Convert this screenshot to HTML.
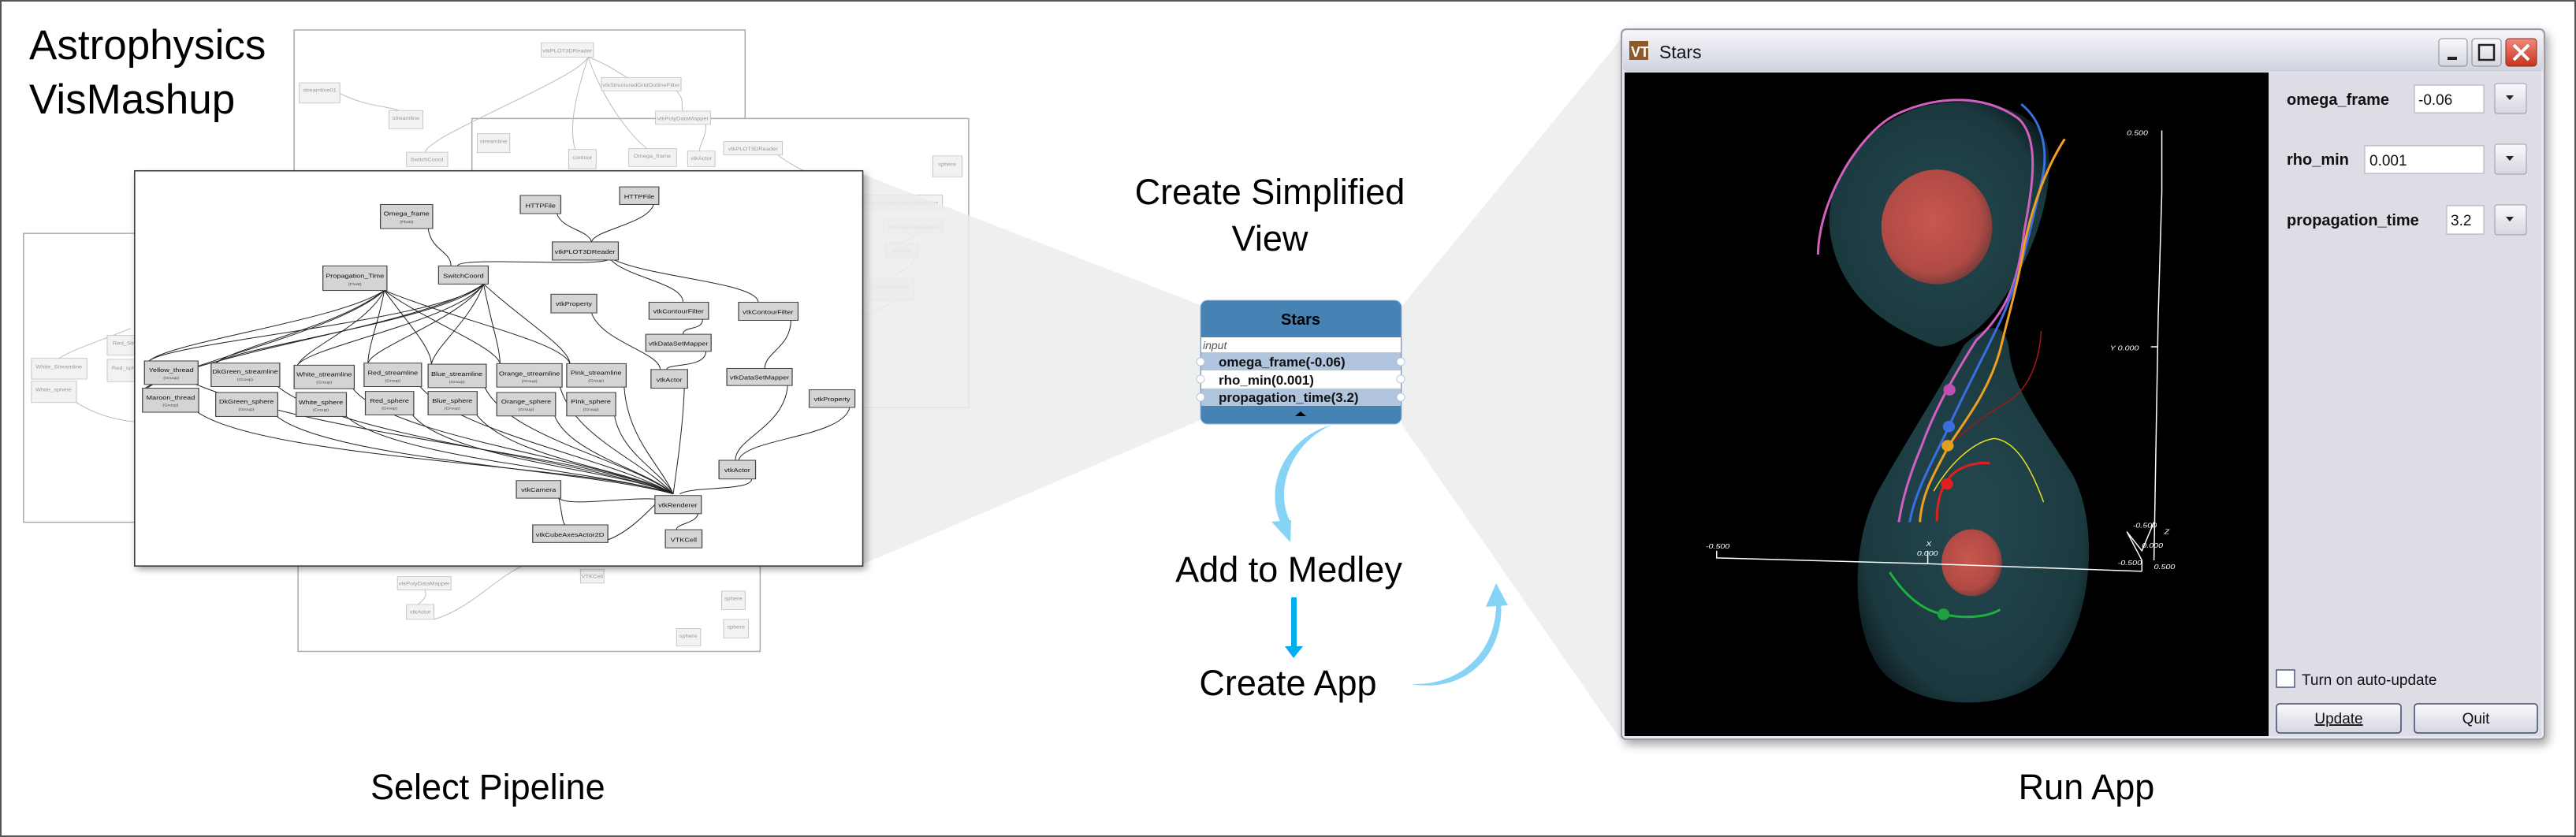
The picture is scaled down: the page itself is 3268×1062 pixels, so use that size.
<!DOCTYPE html>
<html><head><meta charset="utf-8"><style>
html,body{margin:0;padding:0;background:#fff;}
svg{display:block;}
.big{font-family:"Liberation Sans",sans-serif;fill:#000;}
.n rect{fill:#d4d4d4;stroke:#444;stroke-width:1.5;}
.n text{font-family:"Liberation Sans",sans-serif;font-size:11px;fill:#111;text-anchor:middle;}
.n text.s{font-size:7px;fill:#444;}
.f rect{fill:#f2f2f2;stroke:#bbb;stroke-width:1;}
.f text{font-family:"Liberation Sans",sans-serif;font-size:9px;fill:#999;text-anchor:middle;}
.e path{fill:none;stroke:#222;stroke-width:1;vector-effect:non-scaling-stroke;}
.fe path{fill:none;stroke:#bbb;stroke-width:1;vector-effect:non-scaling-stroke;}
</style></head><body>
<svg width="3268" height="1062" viewBox="0 0 3268 1062" xmlns="http://www.w3.org/2000/svg">
<defs>
<radialGradient id="red" cx="0.45" cy="0.45" r="0.6"><stop offset="0" stop-color="#c9574e"/><stop offset="0.75" stop-color="#b04a44"/><stop offset="1" stop-color="#6b3a3a"/></radialGradient>
<radialGradient id="teal" cx="0.5" cy="0.5" r="0.6"><stop offset="0" stop-color="#24474e"/><stop offset="0.8" stop-color="#1b3a40"/><stop offset="1" stop-color="#0c1a1d"/></radialGradient>
<linearGradient id="tb" x1="0" y1="0" x2="0" y2="1"><stop offset="0" stop-color="#f6f6fa"/><stop offset="1" stop-color="#cfd2de"/></linearGradient>
<linearGradient id="btn" x1="0" y1="0" x2="0" y2="1"><stop offset="0" stop-color="#fafafd"/><stop offset="1" stop-color="#d5d6e0"/></linearGradient>
<linearGradient id="cls" x1="0" y1="0" x2="0" y2="1"><stop offset="0" stop-color="#f08a7a"/><stop offset="1" stop-color="#c8321e"/></linearGradient>
<filter id="sh" x="-5%" y="-5%" width="112%" height="115%"><feDropShadow dx="4" dy="6" stdDeviation="6" flood-opacity="0.35"/></filter>
</defs>
<rect x="1" y="1" width="3266" height="1060" fill="#fff" stroke="#555" stroke-width="2"/>

<!-- pipeline area in zoom1 coordinates -->
<g transform="scale(0.8292,0.6775)">
 <!-- back sheets -->
 <rect x="450" y="56" width="690" height="300" fill="#fff" stroke="#aaa" stroke-width="1.5" vector-effect="non-scaling-stroke"/>
 <rect x="456" y="1000" width="707" height="220" fill="#fff" stroke="#aaa" stroke-width="1.5" vector-effect="non-scaling-stroke"/>
 <rect x="722" y="222" width="760" height="541" fill="#fff" stroke="#aaa" stroke-width="1.5" vector-effect="non-scaling-stroke"/>
 <rect x="36" y="437" width="300" height="541" fill="#fff" stroke="#aaa" stroke-width="1.5" vector-effect="non-scaling-stroke"/>
 <g class="fe">
  <path d="M900,107 C880,150 660,250 650,285"/><path d="M900,107 C880,180 870,240 880,280"/><path d="M900,107 C920,180 960,250 990,278"/><path d="M900,107 C930,120 950,140 960,145"/><path d="M1035,170 C1050,190 1040,200 1045,208"/><path d="M1080,233 C1080,260 1070,270 1070,283"/><path d="M520,175 C560,200 600,200 610,207"/>
  <path d="M1190,290 C1220,320 1300,360 1320,365"/><path d="M1400,437 C1400,450 1380,450 1380,455"/><path d="M1400,480 C1400,500 1370,510 1365,522"/><path d="M1370,562 C1350,580 1320,590 1300,595"/>
  <path d="M90,671 C120,650 150,640 200,615"/><path d="M117,754 C150,780 190,790 215,790"/>
  <path d="M650,1105 C655,1120 645,1125 640,1132"/><path d="M664,1160 C720,1140 760,1080 800,1060"/>
 </g>
 <g class="f">
  <rect x="828" y="80" width="80" height="27"/><text x="868" y="98">vtkPLOT3DReader</text>
  <rect x="920" y="145" width="122" height="25"/><text x="981" y="162">vtkStructuredGridOutlineFilter</text>
  <rect x="458" y="155" width="62" height="38"/><text x="489" y="172">streamline01</text>
  <rect x="1003" y="208" width="84" height="25"/><text x="1045" y="225">vtkPolyDataMapper</text>
  <rect x="595" y="207" width="52" height="34"/><text x="621" y="224">streamline</text>
  <rect x="730" y="250" width="50" height="36"/><text x="755" y="268">streamline</text>
  <rect x="622" y="285" width="63" height="27"/><text x="653" y="302">SwitchCoord</text>
  <rect x="870" y="280" width="42" height="36"/><text x="891" y="298">contour</text>
  <rect x="962" y="278" width="73" height="34"/><text x="998" y="295">Omega_frame</text>
  <rect x="1052" y="283" width="42" height="29"/><text x="1073" y="300">vtkActor</text>
  <rect x="1107" y="265" width="90" height="25"/><text x="1152" y="282">vtkPLOT3DReader</text>
  <rect x="1427" y="292" width="45" height="39"/><text x="1449" y="311">sphere</text>
  <rect x="1310" y="365" width="132" height="28"/><text x="1376" y="383">vtkStructuredGridOutlineFilter</text>
  <rect x="1352" y="410" width="90" height="27"/><text x="1397" y="428">vtkPolyDataMapper</text>
  <rect x="1355" y="455" width="50" height="27"/><text x="1380" y="472">vtkActor</text>
  <rect x="1330" y="522" width="68" height="40"/><text x="1364" y="540">AngMomAxis</text>
  <rect x="48" y="671" width="85" height="39"/><text x="90" y="690">White_Streamline</text>
  <rect x="48" y="714" width="69" height="40"/><text x="82" y="733">White_sphere</text>
  <rect x="164" y="628" width="50" height="37"/><text x="189" y="646">Red_Str</text>
  <rect x="164" y="673" width="50" height="42"/><text x="189" y="692">Red_sph</text>
  <rect x="608" y="1080" width="82" height="25"/><text x="649" y="1096">vtkPolyDataMapper</text>
  <rect x="622" y="1132" width="42" height="28"/><text x="643" y="1149">vtkActor</text>
  <rect x="888" y="1066" width="36" height="26"/><text x="906" y="1083">VTKCell</text>
  <rect x="1104" y="1107" width="36" height="35"/><text x="1122" y="1124">sphere</text>
  <rect x="1107" y="1160" width="38" height="35"/><text x="1126" y="1177">sphere</text>
  <rect x="1035" y="1177" width="37" height="33"/><text x="1053" y="1194">sphere</text>
 </g>
</g>

<!-- gray wedges -->
<polygon points="1094,221 1523,387 1523,533 1094,716" fill="#ebecec" opacity="0.85"/>
<polygon points="1778,389 2057,49 2057,940 1778,538" fill="#eeefef"/>

<!-- main sheet -->
<g transform="scale(0.8292,0.6775)">
 <rect x="206" y="320" width="1114" height="740" fill="#fff" stroke="#333" stroke-width="1.5" vector-effect="non-scaling-stroke" filter="url(#sh)"/>
 <g class="e">
  <path d="M655,428 C660,470 690,470 690,498"/>
  <path d="M852,400 C860,430 900,430 905,453"/><path d="M1000,383 C990,420 910,430 905,453"/>
  <path d="M930,487 C900,500 700,480 700,498"/>
  <path d="M935,487 C960,520 1045,530 1045,566"/><path d="M940,487 C1000,520 1160,530 1160,566"/>
  <path d="M1075,598 C1075,620 1045,610 1045,626"/><path d="M1080,658 C1080,690 1020,680 1020,692"/>
  <path d="M905,586 C920,640 1010,660 1010,692"/>
  <path d="M1210,600 C1210,650 1170,660 1170,690"/><path d="M1205,722 C1200,800 1125,820 1125,862"/>
  <path d="M1300,763 C1290,820 1140,820 1130,862"/>
  <path d="M1047,727 C1045,800 1035,880 1030,925"/><path d="M1150,897 C1150,920 1060,910 1040,925"/>
  <path d="M855,933 C870,950 960,930 1005,935"/><path d="M855,933 C860,960 860,980 865,983"/>
  <path d="M925,1013 C960,1000 990,960 1010,935"/><path d="M1068,960 C1068,980 1035,980 1035,992"/>
  <!-- sources to groups -->
  <path d="M588,544 C520,600 260,640 228,676"/><path d="M588,544 C520,610 360,650 330,680"/><path d="M588,544 C560,610 470,650 455,684"/><path d="M588,544 C580,600 563,650 563,680"/><path d="M588,544 C620,600 660,650 660,682"/><path d="M588,544 C650,600 760,650 765,681"/><path d="M588,544 C700,600 860,640 872,681"/>
  <path d="M588,544 C520,620 280,680 222,727"/>
  <path d="M740,532 C680,600 260,640 228,676"/><path d="M740,532 C680,600 360,650 330,680"/><path d="M740,532 C700,600 470,650 455,684"/><path d="M740,532 C700,600 570,650 563,680"/><path d="M740,532 C720,600 665,650 660,682"/><path d="M740,532 C750,600 765,650 765,681"/><path d="M740,532 C800,600 870,650 872,681"/>
  <path d="M740,532 C650,610 300,660 225,727"/>
  <!-- groups to renderer -->
  <path d="M300,720 C500,820 900,850 1030,925"/><path d="M425,724 C520,820 900,860 1030,925"/><path d="M540,728 C600,820 920,860 1030,925"/><path d="M643,724 C700,810 940,860 1030,925"/><path d="M742,726 C780,820 960,860 1030,925"/><path d="M857,725 C880,820 980,860 1030,925"/><path d="M955,725 C960,820 1010,870 1030,925"/>
  <path d="M300,770 C400,860 900,870 1030,925"/><path d="M422,778 C500,860 900,880 1030,925"/><path d="M528,778 C600,860 920,880 1030,925"/><path d="M630,775 C680,860 950,880 1030,925"/><path d="M728,775 C780,860 970,880 1030,925"/><path d="M848,777 C870,850 990,880 1030,925"/><path d="M940,777 C950,850 1010,880 1030,925"/>
 </g>
 <g class="n">
  <rect x="582" y="383" width="80" height="45"/><text x="622" y="404">Omega_frame</text><text class="s" x="622" y="418">(Float)</text>
  <rect x="796" y="366" width="62" height="34"/><text x="827" y="389">HTTPFile</text>
  <rect x="948" y="350" width="60" height="33"/><text x="978" y="372">HTTPFile</text>
  <rect x="845" y="453" width="101" height="34"/><text x="895" y="475">vtkPLOT3DReader</text>
  <rect x="494" y="498" width="98" height="46"/><text x="543" y="520">Propagation_Time</text><text class="s" x="543" y="534">(Float)</text>
  <rect x="671" y="498" width="76" height="34"/><text x="709" y="520">SwitchCoord</text>
  <rect x="843" y="551" width="70" height="35"/><text x="878" y="573">vtkProperty</text>
  <rect x="993" y="566" width="91" height="32"/><text x="1038" y="587">vtkContourFilter</text>
  <rect x="1130" y="566" width="91" height="34"/><text x="1175" y="588">vtkContourFilter</text>
  <rect x="988" y="626" width="100" height="32"/><text x="1038" y="647">vtkDataSetMapper</text>
  <rect x="221" y="676" width="82" height="44"/><text x="262" y="697">Yellow_thread</text><text class="s" x="262" y="710">(Group)</text>
  <rect x="323" y="680" width="105" height="44"/><text x="375" y="700">DkGreen_streamline</text><text class="s" x="375" y="713">(Group)</text>
  <rect x="450" y="684" width="92" height="44"/><text x="496" y="705">White_streamline</text><text class="s" x="496" y="718">(Group)</text>
  <rect x="557" y="680" width="88" height="44"/><text x="601" y="702">Red_streamline</text><text class="s" x="601" y="715">(Group)</text>
  <rect x="655" y="682" width="89" height="44"/><text x="699" y="704">Blue_streamline</text><text class="s" x="699" y="717">(Group)</text>
  <rect x="760" y="681" width="100" height="44"/><text x="810" y="703">Orange_streamline</text><text class="s" x="810" y="716">(Group)</text>
  <rect x="867" y="681" width="91" height="44"/><text x="912" y="702">Pink_streamline</text><text class="s" x="912" y="715">(Group)</text>
  <rect x="996" y="692" width="56" height="35"/><text x="1024" y="715">vtkActor</text>
  <rect x="1112" y="690" width="100" height="32"/><text x="1162" y="711">vtkDataSetMapper</text>
  <rect x="218" y="727" width="86" height="45"/><text x="261" y="748">Maroon_thread</text><text class="s" x="261" y="761">(Group)</text>
  <rect x="330" y="735" width="95" height="45"/><text x="377" y="756">DkGreen_sphere</text><text class="s" x="377" y="769">(Group)</text>
  <rect x="453" y="735" width="77" height="45"/><text x="491" y="757">White_sphere</text><text class="s" x="491" y="770">(Group)</text>
  <rect x="559" y="733" width="74" height="44"/><text x="596" y="754">Red_sphere</text><text class="s" x="596" y="767">(Group)</text>
  <rect x="655" y="733" width="75" height="44"/><text x="692" y="754">Blue_sphere</text><text class="s" x="692" y="767">(Group)</text>
  <rect x="760" y="735" width="90" height="44"/><text x="805" y="756">Orange_sphere</text><text class="s" x="805" y="769">(Group)</text>
  <rect x="867" y="735" width="75" height="44"/><text x="904" y="756">Pink_sphere</text><text class="s" x="904" y="769">(Group)</text>
  <rect x="1238" y="730" width="70" height="33"/><text x="1273" y="751">vtkProperty</text>
  <rect x="1100" y="862" width="56" height="35"/><text x="1128" y="884">vtkActor</text>
  <rect x="790" y="900" width="68" height="33"/><text x="824" y="921">vtkCamera</text>
  <rect x="1002" y="928" width="71" height="34"/><text x="1037" y="950">vtkRenderer</text>
  <rect x="815" y="983" width="115" height="33"/><text x="872" y="1005">vtkCubeAxesActor2D</text>
  <rect x="1018" y="992" width="56" height="34"/><text x="1046" y="1015">VTKCell</text>
 </g>
</g>

<!-- left titles -->
<text class="big" x="37" y="75" font-size="53">Astrophysics</text>
<text class="big" x="37" y="144" font-size="53">VisMashup</text>
<text class="big" x="470" y="1014" font-size="45">Select Pipeline</text>

<!-- middle -->
<text class="big" x="1611" y="259" font-size="45" text-anchor="middle">Create Simplified</text>
<text class="big" x="1611" y="318" font-size="45" text-anchor="middle">View</text>
<g font-family="Liberation Sans, sans-serif">
 <rect x="1523" y="381" width="255" height="157" rx="9" fill="#4682b4" stroke="#9bb8d8" stroke-width="1"/>
 <rect x="1524" y="428" width="253" height="19" fill="#fff"/>
 <rect x="1524" y="447" width="253" height="23" fill="#b0c4de"/>
 <rect x="1524" y="470" width="253" height="23" fill="#fff"/>
 <rect x="1524" y="493" width="253" height="22" fill="#b0c4de"/>
 <text x="1650" y="412" font-size="20" font-weight="bold" text-anchor="middle" fill="#000">Stars</text>
 <text x="1526" y="443" font-size="14" font-style="italic" fill="#555">input</text>
 <text x="1546" y="465" font-size="17" font-weight="bold" fill="#111">omega_frame(-0.06)</text>
 <text x="1546" y="488" font-size="17" font-weight="bold" fill="#111">rho_min(0.001)</text>
 <text x="1546" y="510" font-size="17" font-weight="bold" fill="#111">propagation_time(3.2)</text>
 <g fill="#fff" stroke="#b8c8e0"><circle cx="1523" cy="459" r="5"/><circle cx="1523" cy="481" r="5"/><circle cx="1523" cy="504" r="5"/><circle cx="1777" cy="459" r="5"/><circle cx="1777" cy="481" r="5"/><circle cx="1777" cy="504" r="5"/></g>
 <polygon points="1643,528 1657,528 1650,522" fill="#000"/>
</g>
<!-- curved arrow 1 -->
<path d="M1690,539 C1630,555 1600,620 1628,670 L1637,662 C1615,620 1640,560 1690,539 Z" fill="#87d3f5"/>
<polygon points="1613,662 1637,688 1638,660" fill="#87d3f5"/>
<text class="big" x="1635" y="738" font-size="45" text-anchor="middle">Add to Medley</text>
<rect x="1638" y="758" width="7" height="66" fill="#00aeef"/>
<polygon points="1630,820 1653,820 1641,835" fill="#00aeef"/>
<text class="big" x="1634" y="882" font-size="45" text-anchor="middle">Create App</text>
<path d="M1790,868 C1860,870 1900,820 1898,762 L1904,762 C1910,830 1860,880 1790,868 Z" fill="#87d3f5"/>
<polygon points="1885,770 1898,740 1913,768" fill="#87d3f5"/>

<!-- app window -->
<rect x="2057" y="37" width="1171" height="901" rx="6" fill="#e8e8ee" stroke="#9a9aa8" stroke-width="2" filter="url(#sh)"/>
<rect x="2059" y="39" width="1167" height="52" rx="5" fill="url(#tb)"/>
<rect x="2067" y="52" width="24" height="24" fill="#8a5a2a"/>
<text x="2069" y="72" font-family="Liberation Sans, sans-serif" font-size="18" font-weight="bold" fill="#fff">VT</text>
<text x="2105" y="74" font-family="Liberation Sans, sans-serif" font-size="23" fill="#111">Stars</text>
<rect x="3094" y="49" width="36" height="35" rx="4" fill="url(#btn)" stroke="#888"/>
<rect x="3105" y="72" width="12" height="4" fill="#222"/>
<rect x="3136" y="49" width="37" height="35" rx="4" fill="url(#btn)" stroke="#888"/>
<rect x="3145" y="57" width="19" height="19" fill="none" stroke="#222" stroke-width="2.5"/>
<rect x="3179" y="49" width="39" height="35" rx="4" fill="url(#cls)" stroke="#8a2a1a"/>
<path d="M3189,57 L3208,76 M3208,57 L3189,76" stroke="#fff" stroke-width="4"/>
<rect x="2061" y="92" width="817" height="842" fill="#000"/>
<rect x="2878" y="92" width="346" height="842" fill="#dedde6"/>

<!-- visualization in zoom3 coords -->
<g transform="translate(2040,20) scale(0.7653,0.6061)">
 <path d="M370,470 C350,350 420,230 520,190 C620,160 720,200 730,280 C740,380 700,520 640,620 C600,680 560,700 540,690 C460,650 390,590 370,470 Z" fill="url(#teal)"/>
 <path d="M590,690 C630,640 660,640 665,700 C670,780 720,860 770,960 C820,1080 800,1300 720,1390 C650,1460 520,1450 460,1380 C400,1300 400,1100 450,990 C490,900 550,780 590,690 Z" fill="url(#teal)"/>
 <ellipse cx="545" cy="442" rx="92" ry="120" fill="url(#red)"/>
 <ellipse cx="603" cy="1145" rx="50" ry="70" fill="url(#red)"/>
 <g fill="none" stroke-width="3" vector-effect="non-scaling-stroke">
  <path d="M348,500 C350,380 420,240 480,205 C540,170 620,160 680,215 C720,260 700,380 690,450 C680,560 660,620 610,680 C570,760 540,830 520,900 C500,960 488,1010 482,1060" stroke="#d060c0" stroke-width="3" vector-effect="non-scaling-stroke"/>
  <path d="M685,185 C720,220 730,280 720,340 C700,450 680,560 650,640 C620,720 590,790 565,860 C540,930 510,990 500,1060" stroke="#3b6fe0" stroke-width="3" vector-effect="non-scaling-stroke"/>
  <path d="M757,258 C720,330 700,420 690,480 C680,560 665,620 650,700 C630,790 590,850 565,900 C540,960 520,1000 517,1060" stroke="#f0a020" stroke-width="3" vector-effect="non-scaling-stroke"/>
  <path d="M718,660 C715,720 700,780 660,810 C620,840 590,870 575,890" stroke="#a01818" stroke-width="1.5" vector-effect="non-scaling-stroke"/>
  <path d="M540,995 C570,930 610,890 640,885 C680,890 705,960 722,1018" stroke="#e8e020" stroke-width="1.5" vector-effect="non-scaling-stroke"/>
  <path d="M545,1058 C545,1000 560,960 590,945 C610,935 625,935 633,937" stroke="#e02020" stroke-width="3" vector-effect="non-scaling-stroke"/>
  <path d="M467,1165 C490,1210 520,1245 556,1253 C600,1265 635,1255 650,1243" stroke="#20b040" stroke-width="3" vector-effect="non-scaling-stroke"/>
  <path d="M918,240 L918,370 L912,630 L905,1140 M900,693 L912,693 M180,1120 L180,1135 L530,1147 L885,1163 M530,1147 L530,1120 M885,1163 L885,1140 L860,1080 L885,1120 L905,1060" stroke="#fff" stroke-width="1.5" vector-effect="non-scaling-stroke"/>
 </g>
 <ellipse cx="566" cy="783" rx="10" ry="12" fill="#c050b0"/>
 <ellipse cx="565" cy="860" rx="10" ry="12" fill="#3b6fe0"/>
 <ellipse cx="563" cy="900" rx="10" ry="12" fill="#e0a020"/>
 <ellipse cx="562" cy="980" rx="10" ry="12" fill="#e02020"/>
 <ellipse cx="556" cy="1253" rx="10" ry="12" fill="#20a040"/>
 <g font-family="Liberation Sans, sans-serif" font-style="italic" font-size="14" fill="#fff">
  <text x="860" y="250">0.500</text><text x="832" y="700">Y 0.000</text><text x="162" y="1115">-0.500</text><text x="512" y="1130">0.000</text><text x="527" y="1110">X</text><text x="922" y="1085">Z</text><text x="870" y="1072">-0.500</text><text x="885" y="1114">0.000</text><text x="905" y="1158">0.500</text><text x="845" y="1150">-0.500</text>
 </g>
</g>

<!-- panel widgets -->
<g font-family="Liberation Sans, sans-serif">
 <text x="2901" y="133" font-size="20" font-weight="bold" fill="#111">omega_frame</text>
 <rect x="3063" y="108" width="88" height="35" fill="#fff" stroke="#a8a8b8"/>
 <text x="3068" y="133" font-size="19" fill="#111">-0.06</text>
 <text x="2901" y="209" font-size="20" font-weight="bold" fill="#111">rho_min</text>
 <rect x="3000" y="185" width="151" height="35" fill="#fff" stroke="#a8a8b8"/>
 <text x="3006" y="210" font-size="19" fill="#111">0.001</text>
 <text x="2901" y="286" font-size="20" font-weight="bold" fill="#111">propagation_time</text>
 <rect x="3104" y="261" width="47" height="36" fill="#fff" stroke="#a8a8b8"/>
 <text x="3109" y="286" font-size="19" fill="#111">3.2</text>
 <g fill="url(#btn)" stroke="#9a9aaa"><rect x="3165" y="106" width="40" height="38" rx="3"/><rect x="3165" y="183" width="40" height="38" rx="3"/><rect x="3165" y="260" width="40" height="38" rx="3"/></g>
 <g fill="#222"><polygon points="3179,121 3189,121 3184,127"/><polygon points="3179,198 3189,198 3184,204"/><polygon points="3179,275 3189,275 3184,281"/></g>
 <rect x="2888" y="850" width="23" height="22" fill="#fff" stroke="#4a5a80" stroke-width="1.5"/>
 <text x="2920" y="869" font-size="19" fill="#111">Turn on auto-update</text>
 <rect x="2888" y="893" width="158" height="37" rx="4" fill="url(#btn)" stroke="#3a4a70" stroke-width="1.5"/>
 <text x="2967" y="918" font-size="19" fill="#111" text-anchor="middle" text-decoration="underline">Update</text>
 <rect x="3063" y="893" width="156" height="37" rx="4" fill="url(#btn)" stroke="#3a4a70" stroke-width="1.5"/>
 <text x="3141" y="918" font-size="19" fill="#111" text-anchor="middle">Quit</text>
</g>

<text class="big" x="2647" y="1014" font-size="45" text-anchor="middle">Run App</text>
</svg>
</body></html>
